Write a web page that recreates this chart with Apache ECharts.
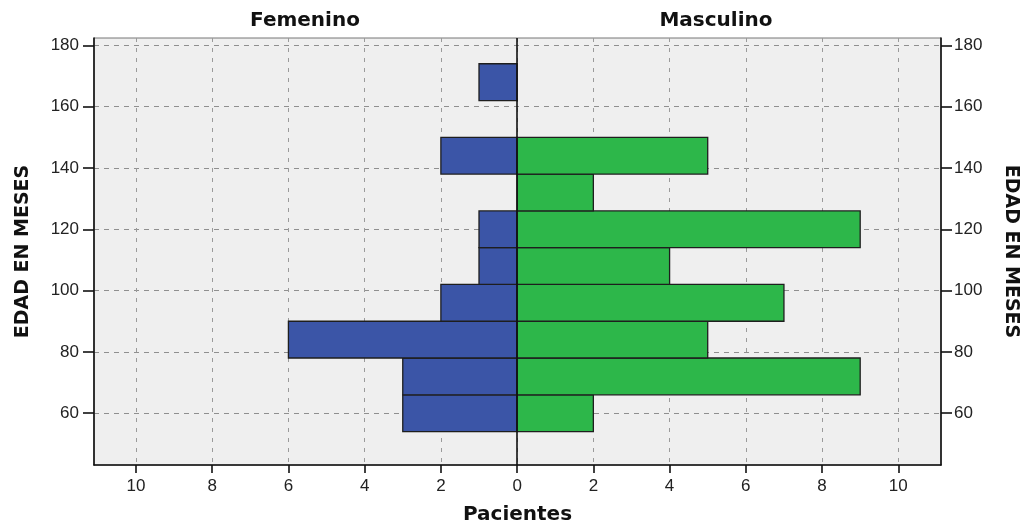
<!DOCTYPE html>
<html><head><meta charset="utf-8">
<script src="https://cdn.jsdelivr.net/npm/echarts@6/dist/echarts.min.js"></script>
<style>html,body{margin:0;padding:0;background:#fff}#c{width:1026px;height:529px}</style>
</head><body><div id="c"></div>
<script>
const binStart = [54, 66, 78, 90, 102, 114, 126, 138, 150, 162];
const binWidth = 12;
const femenino = [3, 3, 6, 2, 1, 1, 0, 2, 0, 1];
const masculino = [2, 9, 5, 7, 4, 9, 2, 5, 0, 0];
const xTicks = [-10, -8, -6, -4, -2, 0, 2, 4, 6, 8, 10];
const yTicks = [60, 80, 100, 120, 140, 160, 180];
const groupLabels = ['Femenino', 'Masculino'];
const axisTitleY = 'EDAD EN MESES';
const axisTitleX = 'Pacientes';

const fData = binStart.map((s, i) => [s, s + binWidth, -femenino[i]]);
const mData = binStart.map((s, i) => [s, s + binWidth, masculino[i]]);

function renderItem(params, api) {
  const lo = api.value(0), hi = api.value(1), v = api.value(2);
  if (!v) return { type: 'group', children: [] };
  const p1 = api.coord([0, hi]);
  const p2 = api.coord([v, lo]);
  return {
    type: 'rect',
    shape: { x: Math.min(p1[0], p2[0]), y: p1[1], width: Math.abs(p2[0] - p1[0]), height: p2[1] - p1[1] },
    style: { fill: api.visual('color'), stroke: '#1e1e1e', lineWidth: 1.3 }
  };
}

const font = 'Liberation Sans, Arial, sans-serif';
const titleFont = 'DejaVu Sans, Verdana, sans-serif';
const splitStyle = { color: '#8f8f8f', type: [5, 5], width: 1 };
const nameStyle = { fontSize: 19, fontWeight: 'bold', color: '#111', fontFamily: titleFont };

const chart = echarts.init(document.getElementById('c'), null, { renderer: 'canvas' });
chart.setOption({
  animation: false,
  textStyle: { fontFamily: font },
  grid: { left: 94, right: 85, top: 38, bottom: 64, outerBoundsMode: 'none', containLabel: false,
          show: true, backgroundColor: '#efefef', borderColor: '#777', borderWidth: 1 },
  graphic: [
    { type: 'text', x: 305, y: 21, style: { text: groupLabels[0], font: 'bold 20px ' + titleFont, fill: '#111', textAlign: 'center', textVerticalAlign: 'middle' } },
    { type: 'text', x: 716, y: 21, style: { text: groupLabels[1], font: 'bold 20px ' + titleFont, fill: '#111', textAlign: 'center', textVerticalAlign: 'middle' } }
  ],
  xAxis: {
    type: 'value', min: -11.1, max: 11.12,
    name: axisTitleX, nameLocation: 'middle', nameGap: 40,
    nameTextStyle: Object.assign({}, nameStyle, { fontSize: 20 }),
    axisLine: { show: true, onZero: false, lineStyle: { color: '#111', width: 1.6 } },
    axisTick: { show: true, length: 8, customValues: xTicks, lineStyle: { color: '#111', width: 1.6 } },
    axisLabel: { customValues: xTicks, margin: 13, fontSize: 17, color: '#222', formatter: v => String(Math.abs(v)) },
    splitLine: { show: true, lineStyle: Object.assign({}, splitStyle, { type: [4, 6], color: '#9a9a9a' }) }
  },
  yAxis: [
    {
      type: 'value', min: 43.1, max: 182.4, position: 'left',
      name: axisTitleY, nameLocation: 'middle', nameGap: 61, nameRotate: 90,
      nameTextStyle: nameStyle,
      axisLine: { show: true, onZero: false, lineStyle: { color: '#111', width: 1.6 } },
      axisTick: { show: true, length: 11, customValues: yTicks, lineStyle: { color: '#111', width: 1.6 } },
      axisLabel: { customValues: yTicks, margin: 15, fontSize: 17, color: '#222' },
      splitLine: { show: true, lineStyle: splitStyle }
    },
    {
      type: 'value', min: 43.1, max: 182.4, position: 'right',
      name: axisTitleY, nameLocation: 'middle', nameGap: 60, nameRotate: -90,
      nameTextStyle: nameStyle,
      axisLine: { show: true, onZero: false, lineStyle: { color: '#111', width: 1.6 } },
      axisTick: { show: true, length: 11, customValues: yTicks, lineStyle: { color: '#111', width: 1.6 } },
      axisLabel: { customValues: yTicks, margin: 13, fontSize: 17, color: '#222' },
      splitLine: { show: false }
    }
  ],
  series: [
    {
      name: groupLabels[0], type: 'custom', renderItem, data: fData, yAxisIndex: 0,
      encode: { x: 2, y: [0, 1] }, itemStyle: { color: '#3b55a7' }, z: 3
    },
    {
      name: groupLabels[1], type: 'custom', renderItem, data: mData, yAxisIndex: 0,
      encode: { x: 2, y: [0, 1] }, itemStyle: { color: '#2db74a' }, z: 3,
      markLine: {
        silent: true, symbol: 'none', label: { show: false }, z: 5,
        lineStyle: { color: '#111', type: 'solid', width: 1.6 },
        data: [{ xAxis: 0 }]
      }
    }
  ]
});
</script></body></html>
